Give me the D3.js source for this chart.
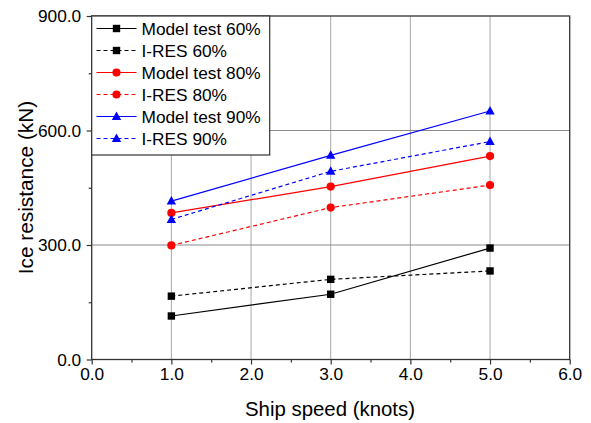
<!DOCTYPE html>
<html><head><meta charset="utf-8">
<script src="https://cdn.jsdelivr.net/npm/d3@7"></script>
<style>body{margin:0;background:#fff}svg{display:block}</style>
</head><body><svg id="c" width="591" height="423"></svg>
<script>
const speeds = [1, 3, 5];
const modelTest60 = [114, 171, 292];
const ires60 = [166, 210, 232];
const modelTest80 = [384, 453, 533];
const ires80 = [299, 398, 457];
const modelTest90 = [415, 535, 651];
const ires90 = [367, 493, 571];
const xTicks = [0, 1, 2, 3, 4, 5, 6];
const yTicks = [0, 300, 600, 900];
const seriesNames = ["Model test 60%", "I-RES 60%", "Model test 80%", "I-RES 80%", "Model test 90%", "I-RES 90%"];
const seriesColors = ["#000000", "#000000", "#ff0000", "#ff0000", "#0000ff", "#0000ff"];
const seriesDashed = [false, true, false, true, false, true];
const seriesMarkers = ["square", "square", "circle", "circle", "triangle", "triangle"];
const seriesValues = [modelTest60, ires60, modelTest80, ires80, modelTest90, ires90];

const svg = d3.select("#c");
const font = "'Liberation Sans', Arial, sans-serif";
const L = 91.7, R = 569.7, T = 16, B = 359.5;
const x = d3.scaleLinear().domain([0, 6]).range([L, R]);
const y = d3.scaleLinear().domain([0, 900]).range([B, T]);

// grid
const g = svg.append("g");
g.selectAll(".vg").data(xTicks.slice(1, -1)).enter().append("line")
  .attr("x1", d => x(d)).attr("x2", d => x(d)).attr("y1", T).attr("y2", B)
  .attr("stroke", "#a8a8a8").attr("stroke-width", 1);
g.selectAll(".hg").data(yTicks.slice(1, -1)).enter().append("line")
  .attr("x1", L).attr("x2", R).attr("y1", d => y(d)).attr("y2", d => y(d))
  .attr("stroke", "#8a8a8a").attr("stroke-width", 1);

// frame
svg.append("rect").attr("x", L).attr("y", T).attr("width", R - L).attr("height", B - T)
  .attr("fill", "none").attr("stroke", "#333").attr("stroke-width", 1.3);

// axes
const xMinor = d3.range(0.5, 6, 1);
const yMinor = d3.range(150, 900, 300);
const xAxis = d3.axisBottom(x).tickValues(xTicks).tickFormat(d3.format(".1f")).tickSize(5).tickPadding(3);
const yAxis = d3.axisLeft(y).tickValues(yTicks).tickFormat(d3.format(".1f")).tickSize(5).tickPadding(5.5);
svg.append("g").attr("transform", `translate(0,${B})`).call(xAxis);
svg.append("g").attr("transform", `translate(${L},0)`).call(yAxis);
svg.append("g").attr("transform", `translate(0,${B})`).call(d3.axisBottom(x).tickValues(xMinor).tickSize(3).tickFormat(""));
svg.append("g").attr("transform", `translate(${L},0)`).call(d3.axisLeft(y).tickValues(yMinor).tickSize(3).tickFormat(""));
svg.selectAll(".domain").remove();
svg.selectAll(".tick line").attr("stroke", "#333").attr("stroke-width", 1.2);
svg.selectAll(".tick text").attr("font-family", font).attr("font-size", 17.3).attr("fill", "#000");

svg.append("text").attr("x", 330).attr("y", 416).attr("text-anchor", "middle")
  .attr("font-family", font).attr("font-size", 20.4).text("Ship speed (knots)");
svg.append("text").attr("transform", `translate(33,187.5) rotate(-90)`).attr("text-anchor", "middle")
  .attr("font-family", font).attr("font-size", 20.8).text("Ice resistance (kN)");

function marker(sel, type, color) {
  if (type === "square") {
    sel.append("rect").attr("x", -3.7).attr("y", -3.7).attr("width", 7.4).attr("height", 7.4).attr("fill", color);
  } else if (type === "circle") {
    sel.append("circle").attr("r", 4.1).attr("fill", color);
  } else {
    sel.append("path").attr("d", "M0,-5L4.7,3.5L-4.7,3.5Z").attr("fill", color);
  }
}

const line = d3.line().x((d, i) => x(speeds[i])).y(d => y(d));
seriesValues.forEach((vals, k) => {
  svg.append("path").attr("d", line(vals)).attr("fill", "none")
    .attr("stroke", seriesColors[k]).attr("stroke-width", 1.2)
    .attr("stroke-dasharray", seriesDashed[k] ? "4,3" : null);
  vals.forEach((v, i) => {
    const m = svg.append("g").attr("transform", `translate(${x(speeds[i])},${y(v)})`);
    marker(m, seriesMarkers[k], seriesColors[k]);
  });
});

// legend
const lg = svg.append("g");
lg.append("rect").attr("x", L).attr("y", T).attr("width", 178).attr("height", 139)
  .attr("fill", "#fff").attr("stroke", "#333").attr("stroke-width", 1.2);
seriesNames.forEach((n, k) => {
  const yy = 28.5 + k * 22;
  lg.append("line").attr("x1", 96.5).attr("x2", 136.5).attr("y1", yy).attr("y2", yy)
    .attr("stroke", seriesColors[k]).attr("stroke-width", 1.2)
    .attr("stroke-dasharray", seriesDashed[k] ? "4,3" : null);
  const m = lg.append("g").attr("transform", `translate(116.5,${yy})`);
  marker(m, seriesMarkers[k], seriesColors[k]);
  lg.append("text").attr("x", 141.5).attr("y", yy + 6.3).attr("font-family", font).attr("font-size", 17.3).text(n);
});
</script></body></html>
